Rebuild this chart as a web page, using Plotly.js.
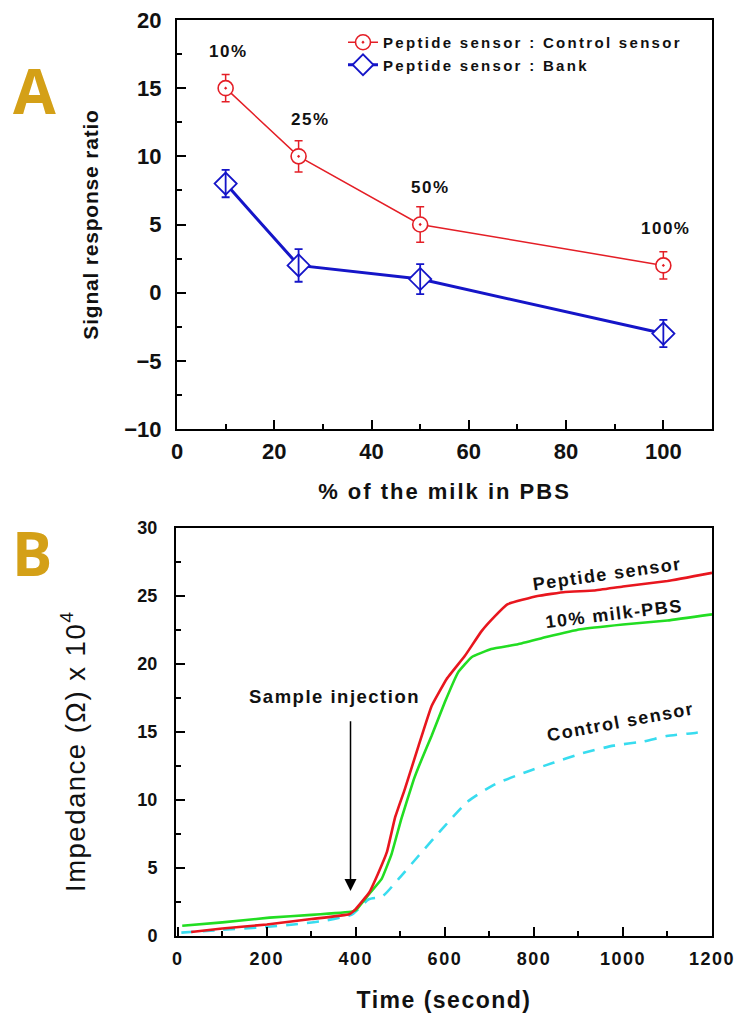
<!DOCTYPE html>
<html>
<head>
<meta charset="utf-8">
<script src="https://cdn.plot.ly/plotly-3.0.1.min.js"></script>
<style>
  html, body { margin: 0; padding: 0; background: #ffffff; }
  #chart { width: 747px; height: 1017px; }
  .legendtext { letter-spacing: 2.3px; }
  .annotation-text { letter-spacing: 1.5px; }
  .x2tick text { letter-spacing: 1.5px; }
  .ytitle { letter-spacing: 0.8px; }
  .xtitle { letter-spacing: 2px; }
  .x2title { letter-spacing: 1.5px; }
</style>
</head>
<body>
<div id="chart"></div>
<script>
// ---- Panel A: signal response ratio against milk content ----
const milkPct = [10, 25, 50, 100];
const ratioControl = [15, 10, 5, 2];
const ratioControlErr = [1.0, 1.15, 1.3, 1.0];
const ratioBlank = [8, 2, 1, -3];
const ratioBlankErr = [1.0, 1.2, 1.1, 1.0];
const pctLabels = ['10%', '25%', '50%', '100%'];
const seriesNamesA = ['Peptide sensor : Control sensor', 'Peptide sensor : Bank'];

// ---- Panel B: impedance (x 10^4 ohm) over time (s) ----
const peptideT = [30, 100, 200, 300, 385, 400, 430, 450, 470, 488, 510, 541, 570, 604, 645, 682, 712, 741, 808, 870, 935, 1000, 1100, 1200];
const peptideZ = [0.3, 0.55, 0.85, 1.25, 1.6, 2.0, 3.2, 4.6, 6.2, 8.7, 10.8, 14.0, 16.9, 18.9, 20.6, 22.4, 23.5, 24.4, 25.0, 25.3, 25.4, 25.7, 26.1, 26.7];
const milkT = [10, 100, 206, 300, 392, 400, 430, 458, 480, 502, 530, 548, 570, 600, 630, 660, 704, 764, 830, 905, 1000, 1100, 1200];
const milkZ = [0.75, 1.0, 1.35, 1.55, 1.8, 1.9, 3.1, 4.2, 6.0, 8.6, 11.5, 13.0, 14.7, 17.2, 19.4, 20.5, 21.1, 21.45, 22.0, 22.55, 22.9, 23.2, 23.65];
const controlT = [8, 100, 191, 260, 325, 392, 429, 459, 496, 541, 600, 652, 712, 786, 845, 905, 979, 1046, 1098, 1165, 1185];
const controlZ = [0.25, 0.45, 0.65, 0.85, 1.1, 1.6, 2.7, 2.9, 4.2, 5.9, 8.1, 9.9, 11.15, 12.1, 12.75, 13.4, 14.0, 14.3, 14.7, 14.95, 15.05];
const curveLabels = ['Peptide sensor', '10% milk-PBS', 'Control sensor'];
const injectionTime = 388;

const RED_A = '#e41e26';
const BLUE_A = '#1515c8';
const RED_B = '#e8161e';
const GREEN_B = '#22dd22';
const CYAN_B = '#38dcef';
const GOLD = '#d4a017';
const FONT = 'Arial, "Liberation Sans", sans-serif';

const W = 747, H = 1017;
const px = v => v / W;
const py = v => 1 - v / H;

const traces = [
  {
    x: milkPct, y: ratioControl, name: seriesNamesA[0],
    xaxis: 'x', yaxis: 'y', type: 'scatter', mode: 'lines+markers',
    line: { color: RED_A, width: 1.5 },
    marker: { symbol: 'circle-dot', size: 15, color: '#ffffff', line: { color: RED_A, width: 1.6 } },
    error_y: { type: 'data', array: ratioControlErr, visible: true, color: RED_A, thickness: 1.5, width: 4 }
  },
  {
    x: milkPct, y: ratioBlank, name: seriesNamesA[1],
    xaxis: 'x', yaxis: 'y', type: 'scatter', mode: 'lines+markers',
    line: { color: BLUE_A, width: 3 },
    marker: { symbol: 'diamond', size: 17, color: '#ffffff', line: { color: BLUE_A, width: 1.8 } }
  },
  {
    x: milkPct, y: ratioBlank, showlegend: false, hoverinfo: 'skip',
    xaxis: 'x', yaxis: 'y', type: 'scatter', mode: 'markers',
    marker: { size: 1, color: 'rgba(0,0,0,0)' },
    error_y: { type: 'data', array: ratioBlankErr, visible: true, color: BLUE_A, thickness: 1.8, width: 4 }
  },
  {
    x: controlT, y: controlZ, name: curveLabels[2], showlegend: false,
    xaxis: 'x2', yaxis: 'y2', type: 'scatter', mode: 'lines',
    line: { color: CYAN_B, width: 2.6, dash: '12px,9px', shape: 'spline', smoothing: 0.6 }
  },
  {
    x: milkT, y: milkZ, name: curveLabels[1], showlegend: false,
    xaxis: 'x2', yaxis: 'y2', type: 'scatter', mode: 'lines',
    line: { color: GREEN_B, width: 2.6, shape: 'spline', smoothing: 0.3 }
  },
  {
    x: peptideT, y: peptideZ, name: curveLabels[0], showlegend: false,
    xaxis: 'x2', yaxis: 'y2', type: 'scatter', mode: 'lines',
    line: { color: RED_B, width: 2.6, shape: 'spline', smoothing: 0.3 }
  }
];

const axisCommon = {
  showline: true, linecolor: '#000', linewidth: 2, mirror: true,
  ticks: 'inside', ticklen: 9, tickwidth: 2, tickcolor: '#000',
  showgrid: false, zeroline: false, fixedrange: true
};
const boldA = { family: FONT, size: 22, color: '#111', weight: 700 };
const boldB = { family: FONT, size: 18, color: '#111', weight: 700 };

const annotations = [];
// Milk percentage labels above the control-ratio points
const pctShiftX = [3, 12, 10, 2];
pctLabels.forEach((t, i) => {
  annotations.push({
    xref: 'x', yref: 'y', x: milkPct[i], y: ratioControl[i], text: t, showarrow: false,
    xshift: pctShiftX[i], yshift: 37,
    font: { family: FONT, size: 17, color: '#111', weight: 700 }
  });
});
// Curve labels in panel B
const curveLabelPos = [[965, 26.65, -8], [979, 23.7, -7], [994, 15.75, -10.5]];
curveLabels.forEach((t, i) => {
  annotations.push({
    xref: 'x2', yref: 'y2', x: curveLabelPos[i][0], y: curveLabelPos[i][1], text: t,
    showarrow: false, textangle: curveLabelPos[i][2],
    font: { family: FONT, size: 18, color: '#111', weight: 700 }
  });
});
// Injection marker
annotations.push({
  xref: 'x2', yref: 'y2', x: injectionTime, y: 3.3, axref: 'x2', ayref: 'y2',
  ax: injectionTime, ay: 15.9, text: '', showarrow: true,
  arrowhead: 2, arrowsize: 1.6, arrowwidth: 1.5, arrowcolor: '#000'
});
annotations.push({
  xref: 'x2', yref: 'y2', x: 351, y: 17.6, text: 'Sample injection', showarrow: false,
  font: { family: FONT, size: 18.5, color: '#111', weight: 700 }
});
// Impedance axis title
annotations.push({
  xref: 'paper', yref: 'paper', x: px(73), y: py(752), text: 'Impedance (Ω) x 10<sup>4</sup>',
  showarrow: false, textangle: -90, xanchor: 'center', yanchor: 'middle',
  font: { family: FONT, size: 27.5, color: '#111' }
});
// Panel letters
annotations.push({
  xref: 'paper', yref: 'paper', x: px(35), y: py(90), text: 'A', showarrow: false,
  xanchor: 'center', yanchor: 'middle',
  font: { family: '"Open Sans", sans-serif', size: 62, color: GOLD, weight: 700 }
});
annotations.push({
  xref: 'paper', yref: 'paper', x: px(33), y: py(553), text: 'B', showarrow: false,
  xanchor: 'center', yanchor: 'middle',
  font: { family: '"Open Sans", sans-serif', size: 60, color: GOLD, weight: 700 }
});

const layout = {
  width: W, height: H,
  margin: { l: 0, r: 0, t: 0, b: 0 },
  paper_bgcolor: '#ffffff', plot_bgcolor: '#ffffff',
  font: { family: FONT, color: '#111' },
  showlegend: true,
  legend: {
    x: px(343), y: py(26), xanchor: 'left', yanchor: 'top',
    bgcolor: 'rgba(0,0,0,0)', borderwidth: 0, tracegroupgap: 0,
    font: { family: FONT, size: 15, color: '#111', weight: 700 }
  },
  xaxis: Object.assign({}, axisCommon, {
    domain: [px(177), px(712)], anchor: 'y', range: [0, 110],
    tick0: 0, dtick: 20, ticklabelstandoff: 2, tickfont: boldA,
    minor: { ticks: 'inside', dtick: 10, ticklen: 5, tickwidth: 2, tickcolor: '#000', showgrid: false },
    title: { text: '% of the milk in PBS', standoff: 20, font: { family: FONT, size: 22, color: '#111', weight: 700 } }
  }),
  yaxis: Object.assign({}, axisCommon, {
    domain: [py(429), py(20)], anchor: 'x', range: [-10, 20],
    tick0: 0, dtick: 5, ticklabelstandoff: 9, tickfont: boldA,
    minor: { ticks: 'inside', dtick: 2.5, ticklen: 5, tickwidth: 2, tickcolor: '#000', showgrid: false },
    title: { text: 'Signal response ratio', standoff: 20, font: { family: FONT, size: 21, color: '#111', weight: 700 } }
  }),
  xaxis2: Object.assign({}, axisCommon, {
    domain: [px(176), px(712)], anchor: 'y2', range: [-4, 1200],
    tick0: 0, dtick: 200, ticklabelstandoff: 5, tickfont: boldB,
    minor: { ticks: 'inside', dtick: 100, ticklen: 5, tickwidth: 2, tickcolor: '#000', showgrid: false },
    title: { text: 'Time (second)', standoff: 24, font: { family: FONT, size: 23, color: '#111', weight: 700 } }
  }),
  yaxis2: Object.assign({}, axisCommon, {
    domain: [py(936), py(528)], anchor: 'x2', range: [0, 30],
    tick0: 0, dtick: 5, ticklabelstandoff: 13, tickfont: boldB,
    minor: { ticks: 'inside', dtick: 2.5, ticklen: 5, tickwidth: 2, tickcolor: '#000', showgrid: false }
  }),
  annotations: annotations
};

Plotly.newPlot('chart', traces, layout, { displayModeBar: false, staticPlot: true });
</script>
</body>
</html>
